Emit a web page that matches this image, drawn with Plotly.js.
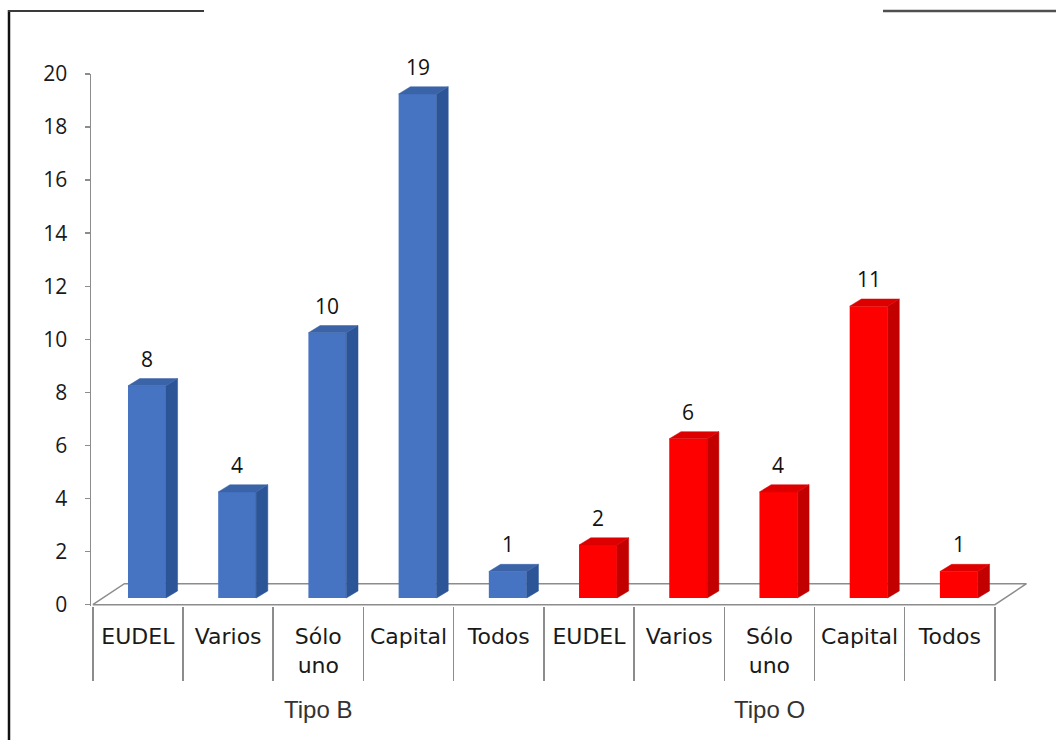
<!DOCTYPE html>
<html>
<head>
<meta charset="utf-8">
<script src="https://cdn.plot.ly/plotly-3.0.1.min.js"></script>
<style>
  html, body { margin: 0; padding: 0; background: #ffffff; }
  #chart { width: 1056px; height: 740px; }
</style>
</head>
<body>
<div id="chart"></div>
<script>
// ---- data ----
const categories = ['EUDEL', 'Varios', 'Sólo<br>uno', 'Capital', 'Todos',
                    'EUDEL', 'Varios', 'Sólo<br>uno', 'Capital', 'Todos'];
const groups = ['Tipo B', 'Tipo O'];
const tipoB = [8, 4, 10, 19, 1];
const tipoO = [2, 6, 4, 11, 1];
const yTicks = [0, 2, 4, 6, 8, 10, 12, 14, 16, 18, 20];

// ---- styling ----
const palette = [
  { front: '#4674C2', side: '#2C5597', top: '#3A63A8' },
  { front: '#FF0000', side: '#C20000', top: '#DE0000' }
];
const LABEL_FONT = 'DejaVu Sans, Verdana, sans-serif';
const NUM_FONT = 'Open Sans, Noto Sans, sans-serif';

// pseudo-3D geometry (data units)
const BAR_SHIFT = 0.1;   // front face sits slightly right of the category centre
const BAR_W = 0.42;
const BASE = 0.25;       // bars stand a little behind the front edge of the floor
const DX = 0.13, DY = 0.27;   // depth of each column
const FDX = 0.35, FDY = 0.79; // depth of the floor

// plot box in pixels
const W = 1056, H = 740, L = 91, R = 25, T = 74, B = 134;
const PW = W - L - R, PH = H - T - B;
const px = x => (x - L) / PW;
const py = y => (H - B - y) / PH;

const seriesList = [tipoB, tipoO];
const traces = [];
const annotations = [];

// floor outline (drawn on the lower subplot so columns hide it)
traces.push({
  type: 'scatter', mode: 'lines', xaxis: 'x', yaxis: 'y',
  x: [-0.5, -0.5 + FDX, categories.length - 0.5 + FDX, categories.length - 0.5, -0.5],
  y: [0, FDY, FDY, 0, 0],
  line: { color: '#8c8c8c', width: 1.5 },
  hoverinfo: 'skip', showlegend: false
});

seriesList.forEach((vals, g) => {
  const xs = vals.map((v, k) => g * vals.length + k + BAR_SHIFT);
  const col = palette[g];

  // front faces
  traces.push({
    type: 'bar', xaxis: 'x2', yaxis: 'y',
    x: xs, y: vals, base: BASE, width: BAR_W,
    marker: { color: col.front, line: { width: 0 } },
    hoverinfo: 'skip', showlegend: false
  });

  // side faces and top faces
  const sx = [], sy = [], tx = [], ty = [];
  vals.forEach((v, k) => {
    const xl = xs[k] - BAR_W / 2, xr = xs[k] + BAR_W / 2, top = BASE + v;
    sx.push(xr, xr + DX, xr + DX, xr, xr, null);
    sy.push(BASE, BASE + DY, top + DY, top, BASE, null);
    tx.push(xl, xl + DX, xr + DX, xr, xl, null);
    ty.push(top, top + DY, top + DY, top, top, null);
  });
  traces.push({
    type: 'scatter', mode: 'lines', xaxis: 'x2', yaxis: 'y',
    x: sx, y: sy, fill: 'toself', fillcolor: col.side,
    line: { color: col.side, width: 0.5 },
    hoverinfo: 'skip', showlegend: false
  });
  traces.push({
    type: 'scatter', mode: 'lines', xaxis: 'x2', yaxis: 'y',
    x: tx, y: ty, fill: 'toself', fillcolor: col.top,
    line: { color: col.top, width: 0.5 },
    hoverinfo: 'skip', showlegend: false
  });

  // value labels, centred over the front face
  vals.forEach((v, k) => {
    annotations.push({
      xref: 'x2', yref: 'y', x: xs[k], y: BASE + v + DY,
      text: String(v), showarrow: false, yanchor: 'bottom', yshift: 4,
      font: { family: NUM_FONT, size: 21, color: '#111111' }
    });
  });

  // group caption under the middle category
  annotations.push({
    xref: 'x', yref: 'paper', x: g * vals.length + Math.floor(vals.length / 2), y: py(709),
    text: groups[g], showarrow: false, yanchor: 'middle',
    font: { family: 'Liberation Sans, Arial, sans-serif', size: 24, color: '#333333' }
  });
});

const n = categories.length;
const boundaries = Array.from({ length: n + 1 }, (_, i) => i - 0.5);
const xRange = [-0.52, n - 0.5 + 0.4];

const layout = {
  width: W, height: H,
  margin: { l: L, r: R, t: T, b: B, pad: 0 },
  paper_bgcolor: '#ffffff', plot_bgcolor: '#ffffff',
  barmode: 'overlay',
  showlegend: false,
  xaxis: {
    range: xRange, showgrid: false, zeroline: false, showline: false,
    tickmode: 'array', tickvals: categories.map((_, i) => i), ticktext: categories,
    ticks: '', ticklabelstandoff: 15,
    tickfont: { family: LABEL_FONT, size: 22, color: '#1a1a1a' },
    minor: { tickmode: 'array', tickvals: boundaries, ticks: 'outside',
             ticklen: 74, tickcolor: '#8c8c8c', tickwidth: 1.5, showgrid: false }
  },
  xaxis2: {
    overlaying: 'x', range: xRange, visible: false, showgrid: false, zeroline: false
  },
  yaxis: {
    range: [-0.05, 20], showgrid: false, zeroline: false,
    showline: true, linecolor: '#8c8c8c', linewidth: 1.5,
    tickmode: 'array', tickvals: yTicks, ticktext: yTicks.map(String),
    ticks: 'outside', ticklen: 5, tickcolor: '#8c8c8c', tickwidth: 1.5,
    ticklabelstandoff: 13,
    tickfont: { family: NUM_FONT, size: 21, color: '#1a1a1a' }
  },
  annotations: annotations,
  shapes: [
    { type: 'line', xref: 'paper', yref: 'paper', x0: px(9), x1: px(9), y0: py(10), y1: py(740),
      line: { color: '#111111', width: 2.5 } },
    { type: 'line', xref: 'paper', yref: 'paper', x0: px(8), x1: px(204), y0: py(11), y1: py(11),
      line: { color: '#3a3a3a', width: 2 } },
    { type: 'line', xref: 'paper', yref: 'paper', x0: px(883), x1: px(1056), y0: py(11), y1: py(11),
      line: { color: '#505050', width: 2.5 } }
  ]
};

Plotly.newPlot('chart', traces, layout, { displayModeBar: false, staticPlot: true });
</script>
</body>
</html>
